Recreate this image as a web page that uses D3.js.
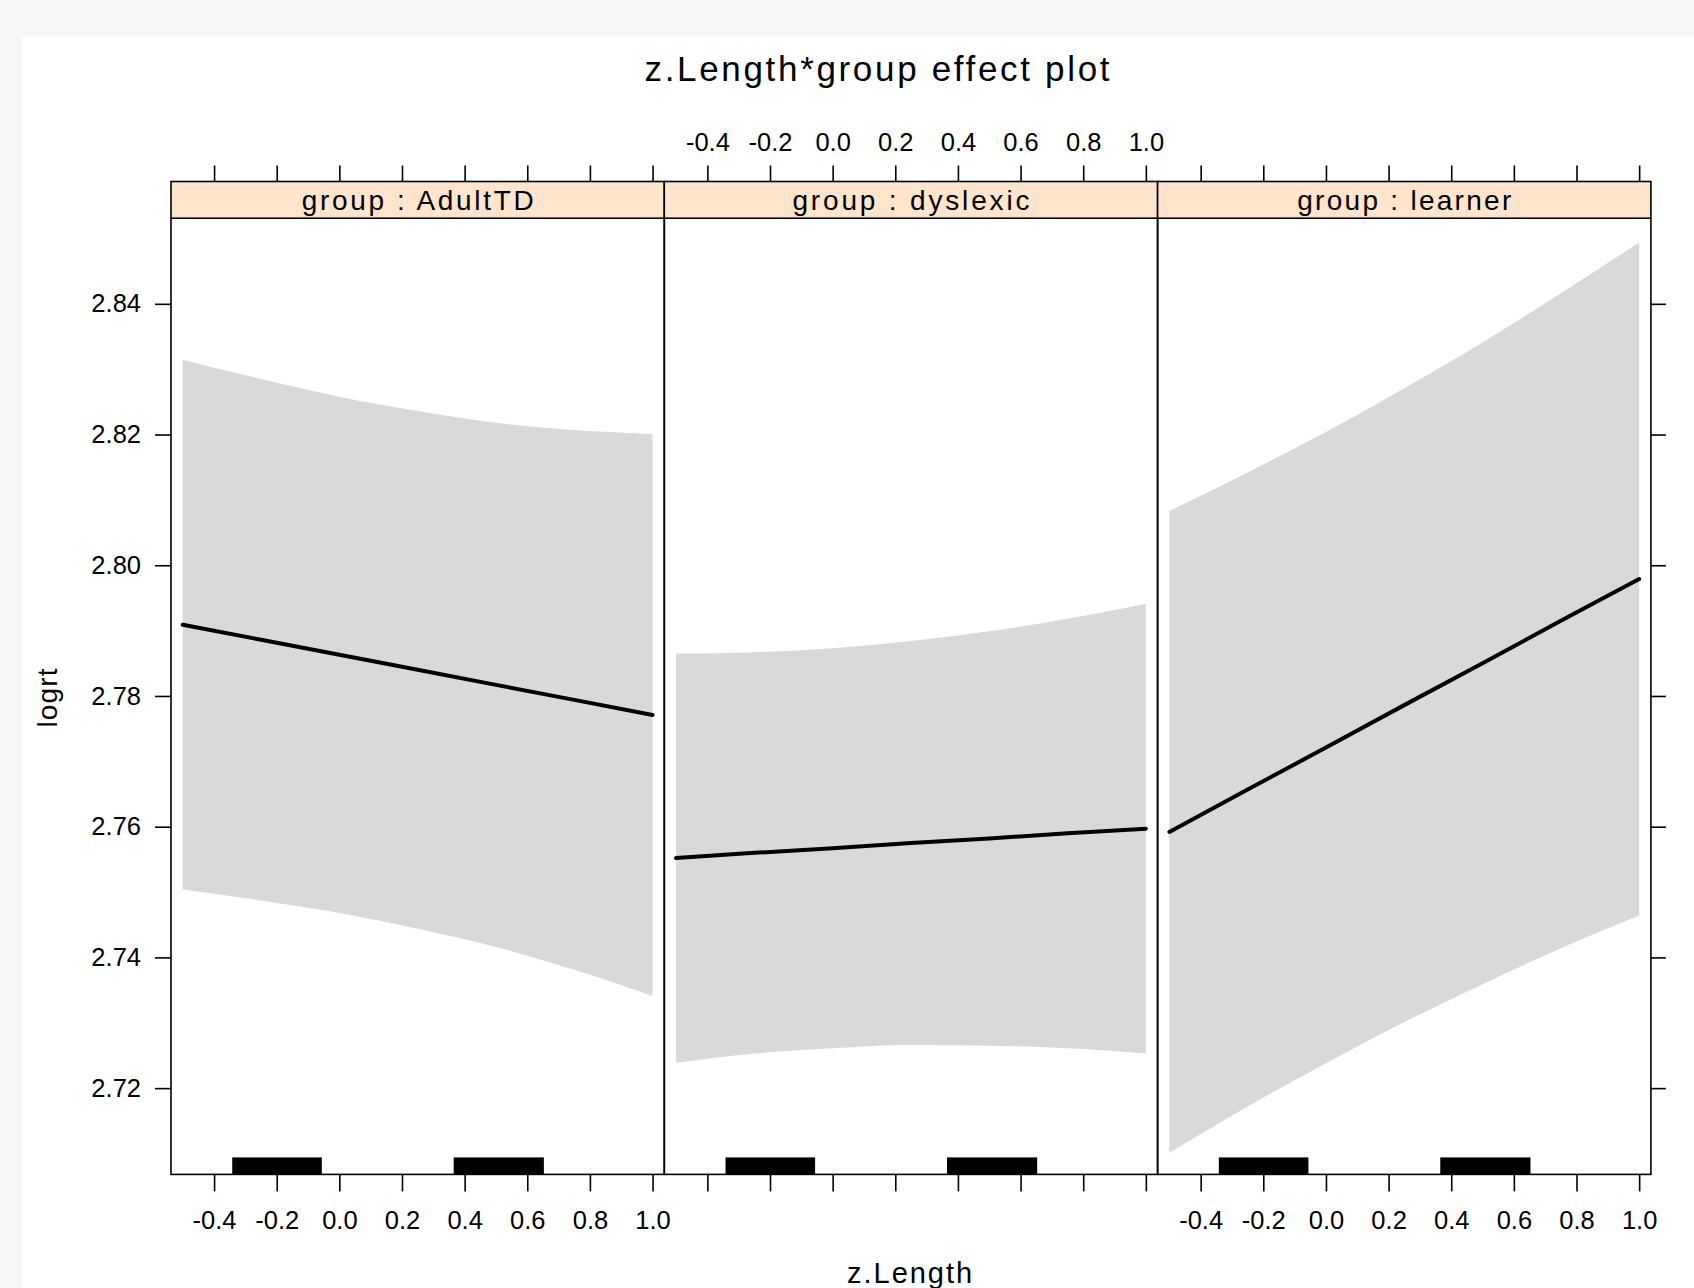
<!DOCTYPE html>
<html><head><meta charset="utf-8">
<script src="https://cdn.jsdelivr.net/npm/d3@7"></script>
<style>
html,body{margin:0;padding:0;background:#f7f7f7;}
svg{display:block;}
text{font-family:"Liberation Sans",Arial,Helvetica,sans-serif;fill:#000;}
</style></head><body>
<svg id="chart" width="1694" height="1288"></svg>
<script>
// ---------- data ----------
const groups = ["AdultTD", "dyslexic", "learner"];
const stripLabels = ["group : AdultTD", "group : dyslexic", "group : learner"];
const zLength = [-0.5, -0.25, 0, 0.25, 0.5, 0.75, 1.0];
const fitAdultTD   = [2.7909, 2.7886, 2.7863, 2.7840, 2.7817, 2.7794, 2.7771];
const upperAdultTD = [2.8314, 2.8285, 2.8258, 2.8236, 2.8218, 2.8207, 2.8201];
const lowerAdultTD = [2.7504, 2.7487, 2.7468, 2.7444, 2.7416, 2.7381, 2.7341];
const fitDyslexic   = [2.7552, 2.7560, 2.7567, 2.7575, 2.7582, 2.7590, 2.7597];
const upperDyslexic = [2.7865, 2.7867, 2.7873, 2.7884, 2.7899, 2.7918, 2.7941];
const lowerDyslexic = [2.7239, 2.7253, 2.7261, 2.7266, 2.7265, 2.7261, 2.7253];
const fitLearner   = [2.7592, 2.7657, 2.7721, 2.7786, 2.7850, 2.7915, 2.7979];
const upperLearner = [2.8083, 2.8142, 2.8204, 2.8271, 2.8341, 2.8416, 2.8494];
const lowerLearner = [2.7101, 2.7172, 2.7238, 2.7301, 2.7359, 2.7414, 2.7464];
const rugStart = [-0.342, 0.365];
const rugEnd   = [-0.056, 0.653];
const xTicks = [-0.4, -0.2, 0.0, 0.2, 0.4, 0.6, 0.8, 1.0];
const yTicks = [2.72, 2.74, 2.76, 2.78, 2.80, 2.82, 2.84];
const xDomain = [-0.5375, 1.0375];
const yDomain = [2.7068, 2.8531];
const titleText = "z.Length*group effect plot";
const xTitle = "z.Length";
const yTitle = "logrt";

const fits = [fitAdultTD, fitDyslexic, fitLearner];
const uppers = [upperAdultTD, upperDyslexic, upperLearner];
const lowers = [lowerAdultTD, lowerDyslexic, lowerLearner];

// ---------- layout ----------
const svg = d3.select("#chart");
const PL = 171, PW = 493.3, PT = 218.2, PB = 1174.4, ST = 181.5;
const FS = 25.5;
const fmt1 = v => d3.format(".1f")(v).replace("\u2212", "-");
const fmt2 = v => d3.format(".2f")(v).replace("\u2212", "-");

svg.append("rect").attr("x", 21.6).attr("y", 35.6).attr("width", 1694).attr("height", 1288).attr("fill", "#ffffff");

const y = d3.scaleLinear().domain(yDomain).range([PB, PT]);

svg.append("text").attr("x", 877).attr("y", 81).attr("text-anchor", "middle")
  .attr("font-size", 35).attr("textLength", 465).attr("lengthAdjust", "spacing").text(titleText);

groups.forEach((g, i) => {
  const left = PL + i * PW;
  const x = d3.scaleLinear().domain(xDomain).range([left, left + PW]);
  const pg = svg.append("g");

  const pts = zLength.map((z, k) => ({ z, fit: fits[i][k], lo: lowers[i][k], hi: uppers[i][k] }));

  pg.append("path").datum(pts)
    .attr("fill", "#d9d9d9")
    .attr("d", d3.area().x(d => x(d.z)).y0(d => y(d.lo)).y1(d => y(d.hi)).curve(d3.curveMonotoneX));

  pg.append("path").datum(pts)
    .attr("fill", "none").attr("stroke", "#000").attr("stroke-width", 4).attr("stroke-linecap", "round")
    .attr("d", d3.line().x(d => x(d.z)).y(d => y(d.fit)));

  rugStart.forEach((s, k) => {
    pg.append("rect").attr("x", x(s)).attr("y", PB - 17)
      .attr("width", x(rugEnd[k]) - x(s)).attr("height", 17).attr("fill", "#000");
  });

  pg.append("rect").attr("x", left).attr("y", PT).attr("width", PW).attr("height", PB - PT)
    .attr("fill", "none").attr("stroke", "#000").attr("stroke-width", 1.6);

  svg.append("rect").attr("x", left).attr("y", ST).attr("width", PW).attr("height", PT - ST)
    .attr("fill", "#ffe5cc").attr("stroke", "#000").attr("stroke-width", 1.6);
  const stripW = [232, 237, 214][i];
  svg.append("text").attr("x", left + PW / 2).attr("y", 209.5).attr("text-anchor", "middle")
    .attr("font-size", 28).attr("textLength", stripW).attr("lengthAdjust", "spacing").text(stripLabels[i]);

  const labelBottom = (i % 2 === 0);
  const ab = d3.axisBottom(x).tickValues(xTicks).tickSize(17).tickSizeOuter(0).tickPadding(20)
    .tickFormat(labelBottom ? fmt1 : () => "");
  const gb = svg.append("g").attr("transform", `translate(0,${PB})`).call(ab);
  const at = d3.axisTop(x).tickValues(xTicks).tickSize(16).tickSizeOuter(0).tickPadding(15)
    .tickFormat(!labelBottom ? fmt1 : () => "");
  const gt = svg.append("g").attr("transform", `translate(0,${ST})`).call(at);
  [gb, gt].forEach(ga => {
    ga.select(".domain").remove();
    ga.selectAll("line").attr("stroke-width", 1.6);
    ga.selectAll("text").attr("font-size", FS);
    ga.attr("font-family", null).attr("font-size", null);
  });
});

const al = d3.axisLeft(y).tickValues(yTicks).tickSize(16).tickSizeOuter(0).tickPadding(14).tickFormat(fmt2);
const gl = svg.append("g").attr("transform", `translate(${PL},0)`).call(al);
const ar = d3.axisRight(y).tickValues(yTicks).tickSize(15).tickSizeOuter(0).tickFormat(() => "");
const gr = svg.append("g").attr("transform", `translate(${PL + 3 * PW},0)`).call(ar);
[gl, gr].forEach(ga => {
  ga.select(".domain").remove();
  ga.selectAll("line").attr("stroke-width", 1.6);
  ga.selectAll("text").attr("font-size", FS);
  ga.attr("font-family", null).attr("font-size", null);
});

svg.append("text").attr("x", 909.6).attr("y", 1283).attr("text-anchor", "middle")
  .attr("font-size", 29).attr("textLength", 125).attr("lengthAdjust", "spacing").text(xTitle);
svg.append("text").attr("transform", "translate(57,698) rotate(-90)").attr("text-anchor", "middle")
  .attr("font-size", 28).attr("textLength", 59).attr("lengthAdjust", "spacing").text(yTitle);
</script>
</body></html>
